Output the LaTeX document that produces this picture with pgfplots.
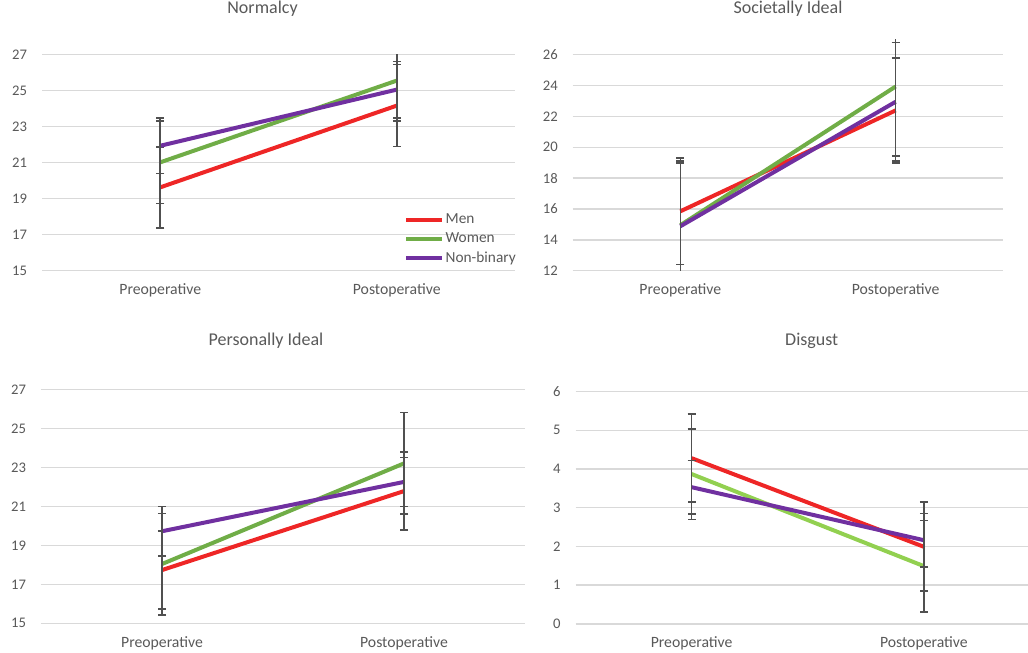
\documentclass[border=0pt]{standalone}
\usepackage{fontspec}
\setmainfont{Carlito}
\usepackage{pgfplots}
\usepackage{pgfplotstable}
\pgfplotsset{compat=1.18}
\definecolor{menc}{HTML}{EE2626}
\definecolor{womc}{HTML}{70AD47}
\definecolor{womd}{HTML}{92D050}
\definecolor{nbc}{HTML}{7030A0}
\definecolor{txt}{HTML}{595959}
\definecolor{grd}{HTML}{D9D9D9}
\definecolor{errc}{HTML}{505050}

\pgfplotstableread{
x m me w we n ne
0 19.63 2.25 21.02 2.28 21.94 1.55
1 24.17 2.28 25.56 2.24 25.06 1.57
}\normalcy
\pgfplotstableread{
x m me w we n ne
0 15.85 3.45 14.95 4.05 14.88 4.25
1 22.39 3.40 23.94 4.50 22.95 3.85
}\societal
\pgfplotstableread{
x m me w we n ne
0 17.73 2.00 18.04 2.60 19.72 1.26
1 21.78 2.00 23.20 2.60 22.25 1.26
}\personal
\pgfplotstableread{
x m me w we n ne
0 4.28 1.14 3.87 1.17 3.53 0.69
1 1.99 1.15 1.49 1.18 2.16 0.69
}\disgust

\pgfplotsset{
 panel/.style={
  scale only axis, anchor=south west,
  xmin=-0.5, xmax=1.5, xtick={0,1}, xticklabels={Preoperative,Postoperative},
  axis line style={draw=none}, major tick length=0pt,
  ymajorgrids, grid style={grd, line width=1.1pt},
  yticklabel style={font=\fontsize{11}{13}\selectfont, text=txt, anchor=east, inner sep=0pt, xshift=-11pt},
  xticklabel style={font=\fontsize{11.8}{14}\selectfont, text=txt, anchor=north, inner sep=0pt, yshift=-9.5pt},
  title style={font=\fontsize{13.5}{16}\selectfont, text=txt, anchor=center, at={(0.5,1)}},
  /pgf/number format/assume math mode=true,
  clip=true,
 },
 errb/.style={line width=3pt, mark=none,
  error bars/.cd, y dir=both, y explicit,
  error bar style={errc, line width=1.2pt},
  error mark options={rotate=90, errc, mark size=3pt, line width=1.2pt}},
}

\begin{document}
\begin{tikzpicture}
\useasboundingbox (0,0) rectangle (771pt,489.75pt);

\begin{axis}[panel, at={(31.5pt,286.725pt)}, width=354.75pt, height=162pt,
  ymin=15, ymax=27, ytick={15,17,...,27},
  title=Normalcy, title style={yshift=28.3pt, xshift=-12pt},
  legend style={at={(0.757,0.283)}, anchor=north west, draw=none, fill=none,
    font=\fontsize{11.5}{13}\selectfont, text=txt, row sep=3.2pt, nodes={inner sep=1pt}},
  legend cell align=left,
  legend image code/.code={\draw[#1] (0pt,0pt) -- (27pt,0pt);}]
\addplot[menc, errb] table[x=x, y=m, y error=me]{\normalcy};
\addlegendentry{Men}
\addplot[womc, errb] table[x=x, y=w, y error=we]{\normalcy};
\addlegendentry{Women}
\addplot[nbc, errb] table[x=x, y=n, y error=ne]{\normalcy};
\addlegendentry{Non-binary}
\end{axis}

\begin{axis}[panel, at={(429.525pt,286.725pt)}, width=322.95pt, height=173.55pt,
  ymin=12, ymax=27, ytick={12,14,...,26},
  title=Societally Ideal, title style={yshift=16.7pt}]
\addplot[menc, errb] table[x=x, y=m, y error=me]{\societal};
\addplot[womc, errb] table[x=x, y=w, y error=we]{\societal};
\addplot[nbc, errb] table[x=x, y=n, y error=ne]{\societal};
\end{axis}

\begin{axis}[panel, at={(30.75pt,22.275pt)}, width=363pt, height=175.5pt,
  ymin=15, ymax=27, ytick={15,17,...,27},
  title=Personally Ideal, title style={yshift=30.2pt, xshift=-12.75pt}]
\addplot[menc, errb] table[x=x, y=m, y error=me]{\personal};
\addplot[womc, errb] table[x=x, y=w, y error=we]{\personal};
\addplot[nbc, errb] table[x=x, y=n, y error=ne]{\personal};
\end{axis}

\begin{axis}[panel, at={(431.625pt,21.9pt)}, width=348.375pt, height=174.15pt,
  ymin=0, ymax=6, ytick={0,1,...,6},
  title=Disgust, title style={yshift=32pt, xshift=3pt}]
\addplot[menc, errb] table[x=x, y=m, y error=me]{\disgust};
\addplot[womd, errb] table[x=x, y=w, y error=we]{\disgust};
\addplot[nbc, errb] table[x=x, y=n, y error=ne]{\disgust};
\end{axis}
\end{tikzpicture}
\end{document}
